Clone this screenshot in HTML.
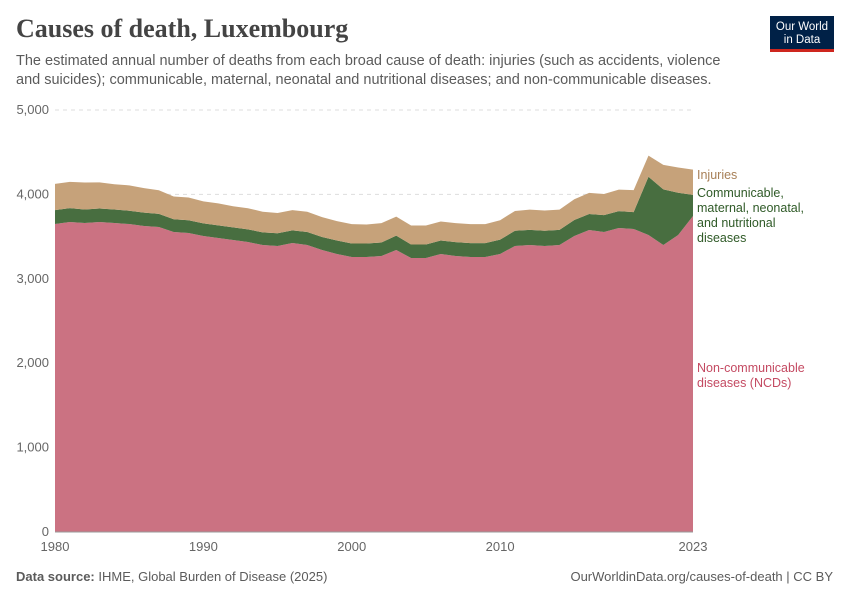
<!DOCTYPE html>
<html><head><meta charset="utf-8"><style>
body{margin:0;background:#fff;font-family:"Liberation Sans",sans-serif;}
#wrap{position:relative;width:850px;height:600px;overflow:hidden}
</style></head><body><div id="wrap">
<div style="position:absolute;left:16px;top:14px;font-family:'Liberation Serif',serif;font-size:26px;font-weight:bold;color:#444">Causes of death, Luxembourg</div>
<div style="position:absolute;left:16px;top:52px;width:730px;font-size:14.5px;line-height:19px;color:#5b5b5b">The estimated annual number of deaths from each broad cause of death: injuries (such as accidents, violence and suicides); communicable, maternal, neonatal and nutritional diseases; and non-communicable diseases.</div>
<div style="position:absolute;left:770px;top:16px;width:64px;height:36px;background:#002147;border-bottom:3px solid #ce261e;box-sizing:border-box;color:#fff;font-size:11.5px;line-height:13px;text-align:center;padding-top:5px">Our World<br>in Data</div>
<svg id="chart" width="850" height="600" style="position:absolute;left:0;top:0"></svg>
<div style="position:absolute;left:16px;top:569px;font-size:13px;color:#5b5b5b"><b>Data source:</b> IHME, Global Burden of Disease (2025)</div>
<div style="position:absolute;right:17px;top:569px;font-size:13px;color:#5b5b5b">OurWorldinData.org/causes-of-death | CC BY</div>
</div>
<script>
const years=[];for(let y=1980;y<=2023;y++)years.push(y);
const ncd=[3649,3673,3661,3673,3661,3649,3626,3614,3555,3543,3507,3483,3460,3436,3400,3389,3424,3400,3341,3294,3258,3258,3270,3341,3246,3246,3294,3270,3258,3258,3294,3389,3400,3389,3400,3507,3578,3555,3602,3590,3519,3400,3519,3744];
const cmnn=[165,165,160,160,160,158,158,155,150,150,150,150,150,150,150,150,150,155,155,160,160,160,160,170,160,160,160,165,165,165,170,180,180,180,180,190,190,200,200,200,690,660,500,250];
const inj=[310,310,320,310,300,300,290,280,270,270,260,260,250,250,245,240,240,240,235,230,230,225,230,225,225,225,225,225,225,225,230,235,240,240,240,245,250,250,255,260,250,290,300,300];
const yTicks=[0,1000,2000,3000,4000,5000];
const xTicks=[1980,1990,2000,2010,2023];
const svg=document.getElementById('chart');const NS='http://www.w3.org/2000/svg';
const X=y=>55+(y-1980)*(693-55)/43;const Y=v=>532-v*(532-110)/5000;
function mk(t,a){const e=document.createElementNS(NS,t);for(const k in a)e.setAttribute(k,a[k]);svg.appendChild(e);return e;}
yTicks.forEach(t=>{const l=mk('line',{x1:55,x2:693,y1:Y(t),y2:Y(t),stroke:t?'#ddd':'#999','stroke-dasharray':t?'4,4':'none'});


const tx=mk('text',{x:49,y:Y(t)+4,'text-anchor':'end','font-size':13,fill:'#666'});tx.textContent=t.toLocaleString('en-US');

});
xTicks.forEach(t=>{const tx=mk('text',{x:X(t),y:551,'text-anchor':'middle','font-size':13,fill:'#666'});tx.textContent=t;

});
const series=[[ncd,'#cb7282','ncd'],[cmnn,'#486e40','cmnn'],[inj,'#c6a27a','injuries']];
let base=years.map(()=>0);
series.forEach(([vals,col,nm])=>{const top=base.map((b,i)=>b+vals[i]);
let d='M'+years.map((y,i)=>X(y)+','+Y(top[i])).join('L');
for(let i=years.length-1;i>=0;i--)d+='L'+X(years[i])+','+Y(base[i]);
const p=mk('path',{d:d+'Z',fill:col});


base=top;});
mk('line',{x1:55,x2:693,y1:532,y2:532,stroke:'#999'});
function lab(lines,y,col,nm){lines.forEach((s,i)=>{const t=mk('text',{x:697,y:y+i*15,'font-size':12.5,fill:col});t.textContent=s;

});}
lab(['Injuries'],179,'#a88058','legend-injuries');
lab(['Communicable,','maternal, neonatal,','and nutritional','diseases'],197,'#2f5a27','legend-cmnn');
lab(['Non-communicable','diseases (NCDs)'],372,'#c44a62','legend-ncd');
</script></body></html>
